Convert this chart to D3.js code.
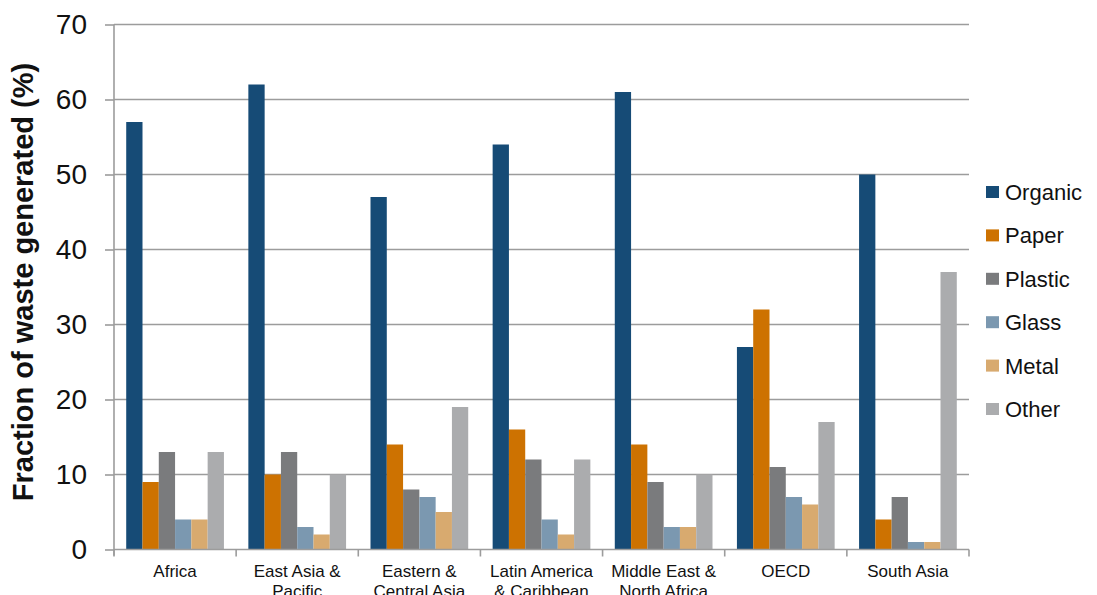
<!DOCTYPE html>
<html>
<head>
<meta charset="utf-8">
<script src="https://cdn.jsdelivr.net/npm/d3@7"></script>
<style>
  html, body { margin: 0; padding: 0; background: #ffffff; }
  svg { display: block; font-family: "Liberation Sans", Arial, sans-serif; }
</style>
</head>
<body>
<svg id="chart" width="1097" height="595"></svg>
<script>
// Regions (each label split into lines)
const regions = [
  ["Africa"],
  ["East Asia &", "Pacific"],
  ["Eastern &", "Central Asia"],
  ["Latin America", "& Caribbean"],
  ["Middle East &", "North Africa"],
  ["OECD"],
  ["South Asia"]
];

// Waste categories and colours
const materials = ["Organic", "Paper", "Plastic", "Glass", "Metal", "Other"];
const colors = ["#164b76", "#cd7201", "#7a7b7d", "#7b98b0", "#d8aa6f", "#abacae"];

// Share of waste generated (%) per region, one array per material
const organic = [57, 62, 47, 54, 61, 27, 50];
const paper   = [9, 10, 14, 16, 14, 32, 4];
const plastic = [13, 13, 8, 12, 9, 11, 7];
const glass   = [4, 3, 7, 4, 3, 7, 1];
const metal   = [4, 2, 5, 2, 3, 6, 1];
const other   = [13, 10, 19, 12, 10, 17, 37];

const yTicks = [0, 10, 20, 30, 40, 50, 60, 70];

const seriesValues = [organic, paper, plastic, glass, metal, other];

const svg = d3.select("#chart");
const plotLeft = 114, plotRight = 969, plotTop = 24.5, plotBottom = 549.5;

const x0 = d3.scaleBand()
  .domain(d3.range(regions.length))
  .range([plotLeft, plotRight])
  .paddingInner(0.2)
  .paddingOuter(0.1);

const x1 = d3.scaleBand()
  .domain(d3.range(materials.length))
  .range([0, x0.bandwidth()]);

const y = d3.scaleLinear().domain([0, 70]).range([plotBottom, plotTop]);

const gridColor = "#9c9c9c";

// Horizontal gridlines
svg.append("g")
  .selectAll("line")
  .data(yTicks.filter(d => d > 0))
  .join("line")
  .attr("x1", plotLeft).attr("x2", plotRight)
  .attr("y1", d => y(d)).attr("y2", d => y(d))
  .attr("stroke", gridColor)
  .attr("stroke-width", 1.6);

// Bars
const groups = svg.append("g")
  .selectAll("g")
  .data(regions.map((r, i) => i))
  .join("g")
  .attr("transform", i => `translate(${x0(i)},0)`);

groups.selectAll("rect")
  .data(i => seriesValues.map((vals, k) => ({ k, v: vals[i] })))
  .join("rect")
  .attr("x", d => x1(d.k))
  .attr("width", x1.bandwidth())
  .attr("y", d => y(d.v))
  .attr("height", d => y(0) - y(d.v))
  .attr("fill", d => colors[d.k]);

// Y axis
const yAxis = svg.append("g")
  .attr("transform", `translate(${plotLeft},0)`)
  .call(d3.axisLeft(y).tickValues(yTicks).tickSize(9).tickPadding(18).tickFormat(d3.format("d")));
yAxis.select(".domain").attr("stroke", gridColor).attr("stroke-width", 1.6)
  .attr("d", `M0,${plotBottom + 6}V${plotTop}`);
yAxis.selectAll(".tick line").attr("stroke", gridColor).attr("stroke-width", 1.6);
yAxis.selectAll(".tick text")
  .attr("fill", "#111")
  .style("font-size", "28px")
  .style("font-family", "'Liberation Sans', Arial, sans-serif");

// X axis with tick marks between regions
const xAxisG = svg.append("g");
xAxisG.append("line")
  .attr("x1", plotLeft).attr("x2", plotRight)
  .attr("y1", plotBottom).attr("y2", plotBottom)
  .attr("stroke", gridColor).attr("stroke-width", 1.6);
const boundaries = d3.range(regions.length + 1).map(i => plotLeft + i * x0.step());
xAxisG.selectAll("line.tk")
  .data(boundaries)
  .join("line")
  .attr("class", "tk")
  .attr("x1", d => d).attr("x2", d => d)
  .attr("y1", plotBottom).attr("y2", plotBottom + 7)
  .attr("stroke", gridColor).attr("stroke-width", 1.6);

// Region labels
const labels = svg.append("g")
  .selectAll("text")
  .data(regions.map((r, i) => ({ r, i })))
  .join("text")
  .attr("text-anchor", "middle")
  .attr("fill", "#111")
  .style("font-size", "17px");
labels.selectAll("tspan")
  .data(d => d.r.map((line, j) => ({ line, j, i: d.i })))
  .join("tspan")
  .attr("x", d => x0(d.i) + x0.bandwidth() / 2)
  .attr("y", d => 577 + d.j * 20)
  .text(d => d.line);

// Y axis title
svg.append("text")
  .attr("transform", "translate(33,282) rotate(-90)")
  .attr("text-anchor", "middle")
  .attr("fill", "#111")
  .style("font-size", "29px")
  .style("font-weight", "bold")
  .text("Fraction of waste generated (%)");

// Legend
const legend = svg.append("g")
  .selectAll("g")
  .data(materials.map((m, i) => ({ m, i })))
  .join("g")
  .attr("transform", d => `translate(986,${192 + d.i * 43.4})`);
legend.append("rect")
  .attr("x", 0).attr("y", -6)
  .attr("width", 13).attr("height", 12)
  .attr("fill", d => colors[d.i]);
legend.append("text")
  .attr("x", 19).attr("y", 8)
  .attr("fill", "#111")
  .style("font-size", "22px")
  .text(d => d.m);
</script>
</body>
</html>
